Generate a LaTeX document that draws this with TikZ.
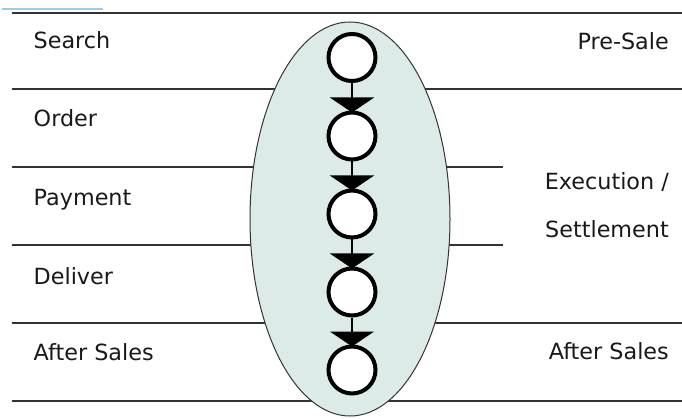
\documentclass[tikz,border=0pt]{standalone}
\usepackage{fontspec}
\setmainfont{DejaVu Sans}
\usetikzlibrary{arrows.meta}
\definecolor{ellfill}{HTML}{DCEBE8}
\definecolor{rule}{HTML}{333333}
\definecolor{topblue}{HTML}{9DCBEA}
\begin{document}
\begin{tikzpicture}[x=1pt,y=-1pt,
  rowline/.style={draw=rule,line width=2pt},
  lbl/.style={inner sep=0pt,font=\fontsize{22.3}{26}\selectfont,text=black!90},
  stage/.style={circle,draw=black,fill=white,line width=4pt,minimum size=47pt,inner sep=0pt},
  flow/.style={line width=2.2pt,-{Triangle[width=44pt,length=15pt]}}]
\useasboundingbox (0,0) rectangle (682,419);
\fill[white] (0,0) rectangle (682,419);
% top blue line
\draw[topblue,line width=2pt] (2,9) -- (103,9);
% row lines
\draw[rowline] (12,13) -- (682,13);
\draw[rowline] (12,89) -- (682,89);
\draw[rowline] (12,167) -- (503,167);
\draw[rowline] (12,245) -- (503,245);
\draw[rowline] (12,323) -- (682,323);
\draw[rowline] (12,401) -- (682,401);
% ellipse
\draw[fill=ellfill,draw=black!80,line width=1pt] (350,219) ellipse [x radius=100, y radius=197];
% circles
\node[stage] (c1) at (352,57.5) {};
\node[stage] (c2) at (352,136) {};
\node[stage] (c3) at (352,214) {};
\node[stage] (c4) at (352,292) {};
\node[stage] (c5) at (352,370) {};
\foreach \a/\b in {c1/c2,c2/c3,c3/c4,c4/c5}
  \draw[flow] (\a.south) -- ([yshift=-2pt]\b.north);
% left labels
\node[lbl,anchor=base west] (search) at (33.5,49) {Search};
\node[lbl,anchor=base west] (order) at (33.5,127) {Order};
\node[lbl,anchor=base west] (payment) at (33.5,206) {Payment};
\node[lbl,anchor=base west] (deliver) at (33.5,285) {Deliver};
\node[lbl,anchor=base west] (aftersalesL) at (33.5,360) {After Sales};
% right labels
\node[lbl,anchor=base east] (presale) at (669,50) {Pre-Sale};
\node[lbl,anchor=base east] (execution) at (669,190) {Execution /};
\node[lbl,anchor=base east] (settlement) at (669,238) {Settlement};
\node[lbl,anchor=base east] (aftersalesR) at (669,359) {After Sales};
\end{tikzpicture}
\end{document}
